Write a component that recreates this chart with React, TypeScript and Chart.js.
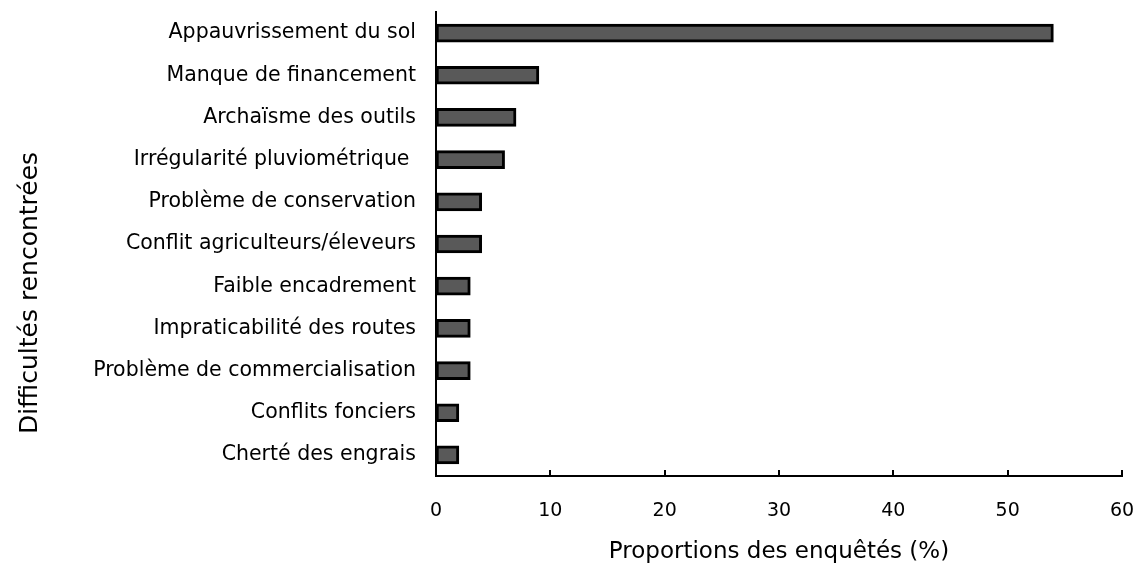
import React, { useEffect, useRef } from "react";
import { Chart, registerables } from "chart.js";

Chart.register(...registerables);

const categories = [
  "Appauvrissement du sol",
  "Manque de financement",
  "Archaïsme des outils",
  "Irrégularité pluviométrique ",
  "Problème de conservation",
  "Conflit agriculteurs/éleveurs",
  "Faible encadrement",
  "Impraticabilité des routes",
  "Problème de commercialisation",
  "Conflits fonciers",
  "Cherté des engrais",
];
const values = [54, 9, 7, 6, 4, 4, 3, 3, 3, 2, 2];
const xTitle = "Proportions des enquêtés (%)";
const yTitle = "Difficultés rencontrées";
const FONT = "'DejaVu Sans', sans-serif";

export default function App() {
  const ref = useRef<HTMLCanvasElement>(null);
  useEffect(() => {
    if (!ref.current) return;
    const extras = {
      id: "extras",
      afterDraw(chart: any) {
        const ctx = chart.ctx;
        const x = chart.scales.x;
        const area = chart.chartArea;
        ctx.save();
        ctx.strokeStyle = "#000";
        ctx.lineWidth = 2;
        x.ticks.forEach((t: any) => {
          const px = Math.round(x.getPixelForValue(t.value));
          ctx.beginPath();
          ctx.moveTo(px, area.bottom);
          ctx.lineTo(px, area.bottom - 6);
          ctx.stroke();
        });
        ctx.translate(30, 293);
        ctx.rotate(-Math.PI / 2);
        ctx.fillStyle = "#000";
        ctx.font = `25px ${FONT}`;
        ctx.textAlign = "center";
        ctx.textBaseline = "middle";
        ctx.fillText(yTitle, 0, 0);
        ctx.restore();
      },
    };
    const chart = new Chart(ref.current, {
      type: "bar",
      data: {
        labels: categories,
        datasets: [
          {
            data: values,
            backgroundColor: "#595959",
            borderColor: "#000",
            borderWidth: 3,
            borderSkipped: false,
            barThickness: 18,
          },
        ],
      },
      options: {
        indexAxis: "y",
        animation: false,
        responsive: true,
        maintainAspectRatio: false,
        layout: { padding: { top: 12, right: 18, bottom: 0, left: 0 } },
        plugins: { legend: { display: false }, tooltip: { enabled: false } },
        scales: {
          x: {
            min: 0,
            max: 60,
            ticks: { stepSize: 10, color: "#000", font: { family: FONT, size: 19 }, padding: 24 },
            grid: { display: false, drawTicks: false },
            border: { display: true, color: "#000", width: 2 },
            title: {
              display: true,
              text: xTitle,
              color: "#000",
              font: { family: FONT, size: 23, lineHeight: 1 },
              padding: { top: 0, bottom: 1 },
            },
            afterFit(scale: any) {
              scale.height = 89;
              scale.paddingLeft = 0;
              scale.paddingRight = 0;
            },
          },
          y: {
            ticks: { color: "#000", font: { family: FONT, size: 20.5 }, padding: 20 },
            grid: { display: false, drawTicks: false },
            border: { display: true, color: "#000", width: 2 },
            afterFit(scale: any) {
              scale.width = 436;
              scale.paddingTop = 0;
              scale.paddingBottom = 0;
            },
          },
        },
      },
      plugins: [extras],
    });
    return () => chart.destroy();
  }, []);
  return (
    <div style={{ position: "fixed", left: 0, top: 0, width: 1140, height: 565, background: "#fff" }}>
      <canvas ref={ref} />
    </div>
  );
}
